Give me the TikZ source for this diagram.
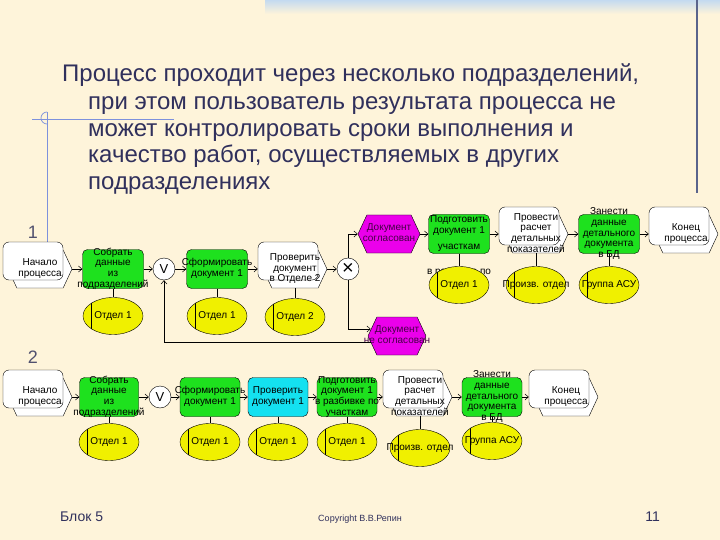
\documentclass[tikz,border=0pt]{standalone}
\usepackage{fontspec}
\setmainfont{Liberation Sans}
\usetikzlibrary{shapes.geometric, shapes.symbols, arrows.meta, positioning, calc}

\definecolor{bgcream}{RGB}{254,244,218}
\definecolor{stripblue}{RGB}{196,218,240}
\definecolor{slateline}{RGB}{90,100,140}
\definecolor{crossblue}{RGB}{125,145,220}
\definecolor{titleblue}{RGB}{48,48,92}
\definecolor{labgray}{RGB}{80,80,110}
\definecolor{fgreen}{RGB}{30,225,30}
\definecolor{fcyan}{RGB}{20,225,240}
\definecolor{fmag}{RGB}{235,0,235}
\definecolor{evtext}{RGB}{70,0,70}
\definecolor{oyel}{RGB}{240,240,0}

\newcommand{\ftxt}[1]{\raisebox{-2.5pt}[0pt][0pt]{\makebox[0pt]{\begin{tabular}{@{}c@{}}#1\end{tabular}}}}
\newcommand{\itxt}[1]{\raisebox{-10.5pt}[0pt][0pt]{\makebox[0pt]{\hspace{14pt}\begin{tabular}{@{}c@{}}#1\end{tabular}}}}

\begin{document}
\begin{tikzpicture}[
    x=1pt, y=-1pt,
    dgm/.style={font=\fontsize{10}{10.7}\selectfont},
    func/.style={dgm, rectangle, rounded corners=5pt, draw=black, fill=fgreen,
                 minimum width=61pt, minimum height=39pt, inner sep=0pt},
    chkfunc/.style={func, fill=fcyan},
    evt/.style={dgm, signal, signal to=east and west, signal pointer angle=130,
                draw=black, fill=fmag, text=evtext,
                minimum width=62pt, minimum height=38pt, inner sep=0pt},
    ifhex/.style={signal, signal to=east and west, signal pointer angle=130,
                  draw=black, fill=white, minimum width=64pt, minimum height=38pt, inner sep=0pt},
    iface/.style={dgm, rectangle, rounded corners=6pt, draw=black, fill=white,
                  minimum width=60pt, minimum height=38pt, inner sep=0pt},
    org/.style={dgm, ellipse, draw=black, fill=oyel, minimum width=60pt, minimum height=37pt, inner sep=0pt,
                path picture={\draw ([xshift=8pt]path picture bounding box.north west)
                              -- ([xshift=8pt]path picture bounding box.south west);}},
    oper/.style={circle, draw=black, fill=white, minimum size=22pt, inner sep=0pt,
                 font=\fontsize{13}{13}\selectfont},
    arr/.style={-{Straight Barb[length=3.5pt, width=6pt]}, line width=0.5pt},
    link/.style={line width=0.5pt},
    slide/.style={text=titleblue, inner sep=0pt},
]
\fill[bgcream] (0,0) rectangle (720,540);
\useasboundingbox (0,0) rectangle (720,540);
\shade[top color=stripblue, bottom color=bgcream] (265,0) rectangle (720,14);
\draw[slateline, line width=1.2pt] (697,0) -- (697,193);
\draw[crossblue, line width=0.7pt] (32,119) -- (174,119) (47,112) -- (47,243);
\draw[crossblue, line width=0.7pt] (47,112) arc[start angle=90, end angle=270, radius=6pt];

\node[slide, font=\fontsize{24}{27}\selectfont, align=left, anchor=base west] (title) at (62,190)
  {Процесс проходит через несколько подразделений,\\
   \hspace*{26pt}при этом пользователь результата процесса не\\
   \hspace*{26pt}может контролировать сроки выполнения и\\
   \hspace*{26pt}качество работ, осуществляемых в других\\
   \hspace*{26pt}подразделениях};

\node[slide, text=labgray, font=\fontsize{18}{18}\selectfont] (lane1) at (33,232) {1};
\node[slide, text=labgray, font=\fontsize{18}{18}\selectfont] (lane2) at (33,357) {2};

\node[ifhex] (beg1h) at (40,269) {};
\node[iface] (beg1) at ($(beg1h)+(-7,-8)$) {\itxt{Начало\\процесса}};
\node[func] (coll1) at (113,269) {\ftxt{Собрать\\данные\\из\\подразделений}};
\node[oper] (or1) at (164,269) {V};
\node[func] (form1) at (217,269) {\ftxt{Сформировать\\документ 1}};
\node[ifhex] (chk1h) at (295,269) {};
\node[iface] (chk1) at ($(chk1h)+(-7,-8)$) {\itxt{Проверить\\документ\\в Отделе 2}};
\node[oper, font=\fontsize{20}{20}\selectfont] (xor1) at (348,269) {×};
\node[evt] (ok1) at (389,234) {\ftxt{Документ\\согласован}};
\node[evt, minimum width=58pt] (nok1) at (397,336) {\ftxt{Документ\\не согласован}};
\node[func] (prep1) at (459,234) {\ftxt{Подготовить\\документ 1\\[6pt]участкам}};
\node[dgm] (prep1x) at (459,272) {в разбивке по};
\node[ifhex] (calc1h) at (536,234) {};
\node[iface] (calc1) at ($(calc1h)+(-7,-8)$) {\itxt{Провести\\расчет\\детальных\\показателей}};
\node[func] (db1) at (609,234) {\ftxt{Занести\\данные\\детального\\документа\\в БД}};
\node[ifhex] (end1h) at (686,234) {};
\node[iface] (end1) at ($(end1h)+(-7,-8)$) {\itxt{Конец\\процесса}};

\node[org] (u11) at (113,316) {\ftxt{Отдел 1}};
\node[org] (u12) at (217,316) {\ftxt{Отдел 1}};
\node[org] (u13) at (295,317) {\ftxt{Отдел 2}};
\node[org] (u14) at (459,285) {\ftxt{Отдел 1}};
\node[org] (u15) at (536,285) {\ftxt{Произв. отдел}};
\node[org] (u16) at (609,285) {\ftxt{Группа АСУ}};

\draw[arr] (beg1h.east) -- (coll1.west);
\draw[arr] (coll1) -- (or1);
\draw[arr] (or1) -- (form1);
\draw[arr] (form1.east) -- (form1.east -| chk1.west);
\draw[arr] (chk1h.east) -- (xor1);
\draw[arr] (xor1) |- (ok1);
\draw[arr] (xor1) |- ($(nok1.west)+(3,-7)$);
\draw[arr] ($(nok1.west)+(3,6)$) -| (or1);
\draw[arr] (ok1) -- (prep1);
\draw[arr] (prep1.east) -- (prep1.east -| calc1.west);
\draw[arr] (calc1h.east) -- (db1.west);
\draw[arr] (db1.east) -- (db1.east -| end1.west);
\draw[link] (coll1) -- (u11);
\draw[link] (form1) -- (u12);
\draw[link] (chk1h) -- (u13);
\draw[link] (prep1) -- (u14);
\draw[link] (calc1h) -- (u15);
\draw[link] (db1) -- (u16);

\node[ifhex] (beg2h) at (40,397) {};
\node[iface] (beg2) at ($(beg2h)+(-7,-8)$) {\itxt{Начало\\процесса}};
\node[func, minimum width=59pt] (coll2) at (109,397) {\ftxt{Собрать\\данные\\из\\подразделений}};
\node[oper] (or2) at (160,397) {V};
\node[func, minimum width=60pt] (form2) at (210,397) {\ftxt{Сформировать\\документ 1}};
\node[chkfunc, minimum width=60pt] (chk2) at (278,397) {\ftxt{Проверить\\документ 1}};
\node[func, minimum width=60pt] (prep2) at (347,397) {\ftxt{Подготовить\\документ 1\\в разбивке по\\участкам}};
\node[ifhex] (calc2h) at (420,397) {};
\node[iface] (calc2) at ($(calc2h)+(-7,-8)$) {\itxt{Провести\\расчет\\детальных\\показателей}};
\node[func, minimum width=60pt] (db2) at (492,397) {\ftxt{Занести\\данные\\детального\\документа\\в БД}};
\node[ifhex] (end2h) at (566,397) {};
\node[iface] (end2) at ($(end2h)+(-7,-8)$) {\itxt{Конец\\процесса}};

\node[org] (u21) at (109,442) {\ftxt{Отдел 1}};
\node[org] (u22) at (210,442) {\ftxt{Отдел 1}};
\node[org] (u23) at (278,442) {\ftxt{Отдел 1}};
\node[org] (u24) at (347,442) {\ftxt{Отдел 1}};
\node[org] (u25) at (420,448) {\ftxt{Произв. отдел}};
\node[org] (u26) at (492,441) {\ftxt{Группа АСУ}};

\draw[arr] (beg2h.east) -- (coll2.west);
\draw[arr] (coll2) -- (or2);
\draw[arr] (or2) -- (form2);
\draw[arr] (form2) -- (chk2);
\draw[arr] (chk2) -- (prep2);
\draw[arr] (prep2.east) -- (prep2.east -| calc2.west);
\draw[arr] (calc2h.east) -- (db2.west);
\draw[arr] (db2.east) -- (db2.east -| end2.west);
\draw[link] (coll2) -- (u21);
\draw[link] (form2) -- (u22);
\draw[link] (chk2) -- (u23);
\draw[link] (prep2) -- (u24);
\draw[link] (calc2h) -- (u25);
\draw[link] (db2) -- (u26);

\node[slide, font=\fontsize{14}{14}\selectfont, anchor=base west] (blk) at (60,521) {Блок 5};
\node[slide, font=\fontsize{9}{9}\selectfont] (copy) at (360,519) {Copyright В.В.Репин};
\node[slide, font=\fontsize{14}{14}\selectfont, anchor=base east] (pg) at (660,521) {11};
\end{tikzpicture}
\end{document}
